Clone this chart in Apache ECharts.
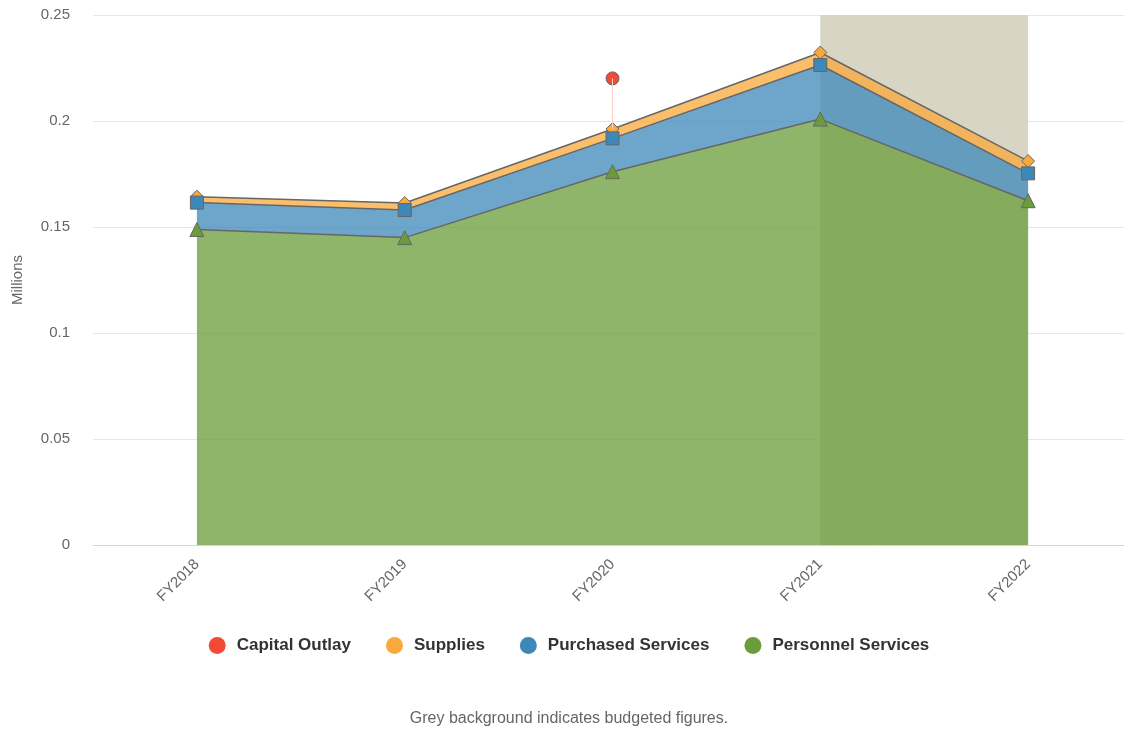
<!DOCTYPE html>
<html>
<head>
<meta charset="utf-8">
<script src="https://cdn.jsdelivr.net/npm/echarts@6/dist/echarts.min.js"></script>
<style>
  html, body { margin: 0; padding: 0; background: #fff; overflow: hidden; }
  #chart { width: 1138px; height: 730px; }
</style>
</head>
<body>
<div id="chart"></div>
<script>
// Fiscal years shown on the category axis
const years = ['FY2018', 'FY2019', 'FY2020', 'FY2021', 'FY2022'];

// Spending by category, in millions (stacked bottom to top)
const personnel = [0.1488, 0.1450, 0.1761, 0.2009, 0.1624];
const purchased = [0.0127, 0.0130, 0.0157, 0.0255, 0.0129];
const supplies  = [0.0028, 0.0033, 0.0044, 0.0059, 0.0058];
const capital   = [null, null, 0.0239, null, null];

// Years that carry budgeted rather than actual figures
const budgetFrom = 'FY2021';
const budgetTo = 'FY2022';

const yTicks = { min: 0, max: 0.25, interval: 0.05 };

const FONT = "'Liberation Sans', Arial, Helvetica, sans-serif";
const LINE = '#666666';

// Vertical connector for capital outlay, from the top of the lower stack to its own value
const capIdx = capital.findIndex(v => v !== null);
const capBase = personnel[capIdx] + purchased[capIdx] + supplies[capIdx];

function areaSeries(name, data, color, symbol, size, z) {
  return {
    name, type: 'line', stack: 'total', data, z,
    symbol, symbolSize: size, showSymbol: true, showAllSymbol: true,
    lineStyle: { color: LINE, width: 1.5 },
    itemStyle: { color, borderColor: LINE, borderWidth: 1 },
    areaStyle: { color, opacity: 0.75 },
    emphasis: { disabled: true }
  };
}

const chart = echarts.init(document.getElementById('chart'), null, { renderer: 'canvas' });

chart.setOption({
  animation: false,
  textStyle: { fontFamily: FONT },
  grid: { left: 93, right: 6, top: 15, bottom: 185, containLabel: false },
  title: {
    text: 'Grey background indicates budgeted figures.',
    left: 'center', top: 706,
    textStyle: { fontFamily: FONT, fontSize: 16, fontWeight: 'normal', color: '#666666' }
  },
  legend: {
    data: ['Capital Outlay', 'Supplies', 'Purchased Services', 'Personnel Services'],
    left: 'center', top: 632,
    icon: 'circle', itemWidth: 17, itemHeight: 17, itemGap: 35,
    itemStyle: { borderWidth: 0 },
    textStyle: { fontFamily: FONT, fontSize: 17, fontWeight: 'bold', color: '#333333', padding: [0, 0, 0, 6] }
  },
  xAxis: {
    type: 'category', data: years, boundaryGap: true,
    axisLine: { lineStyle: { color: '#ccd6eb', width: 1 } },
    axisTick: { show: false },
    axisLabel: { rotate: 45, margin: 17, color: '#666666', fontSize: 15, fontFamily: FONT }
  },
  yAxis: {
    type: 'value', min: yTicks.min, max: yTicks.max, interval: yTicks.interval,
    name: 'Millions', nameLocation: 'middle', nameGap: 68, nameRotate: 90,
    nameTextStyle: { color: '#666666', fontSize: 15, fontFamily: FONT },
    axisLine: { show: false }, axisTick: { show: false },
    axisLabel: { color: '#666666', fontSize: 15, margin: 23, fontFamily: FONT },
    splitLine: { lineStyle: { color: '#e6e6e6', width: 1 } }
  },
  series: [
    {
      name: 'budget-band', type: 'line', data: [], z: 1, silent: true,
      markArea: {
        silent: true,
        itemStyle: { color: '#d8d5c5' },
        data: [[{ xAxis: budgetFrom }, { xAxis: budgetTo }]]
      }
    },
    areaSeries('Personnel Services', personnel, '#6a9c3a', 'triangle', 14, 5),
    areaSeries('Purchased Services', purchased, '#3d88b9', 'rect', 13, 4),
    areaSeries('Supplies', supplies, '#f9a83a', 'diamond', 13, 3),
    {
      name: 'Capital Outlay', type: 'line', stack: 'total', data: capital, z: 2,
      symbol: 'circle', symbolSize: 13, showSymbol: true, showAllSymbol: true,
      lineStyle: { color: '#f44a35', width: 1 },
      itemStyle: { color: '#f44a35', borderColor: LINE, borderWidth: 1 },
      emphasis: { disabled: true },
      markLine: {
        silent: true, symbol: ['none', 'none'],
        label: { show: false },
        lineStyle: { color: '#fbcdc8', width: 1, type: 'solid' },
        data: [[
          { coord: [years[capIdx], capBase] },
          { coord: [years[capIdx], capBase + capital[capIdx]] }
        ]]
      }
    }
  ]
});
</script>
</body>
</html>
